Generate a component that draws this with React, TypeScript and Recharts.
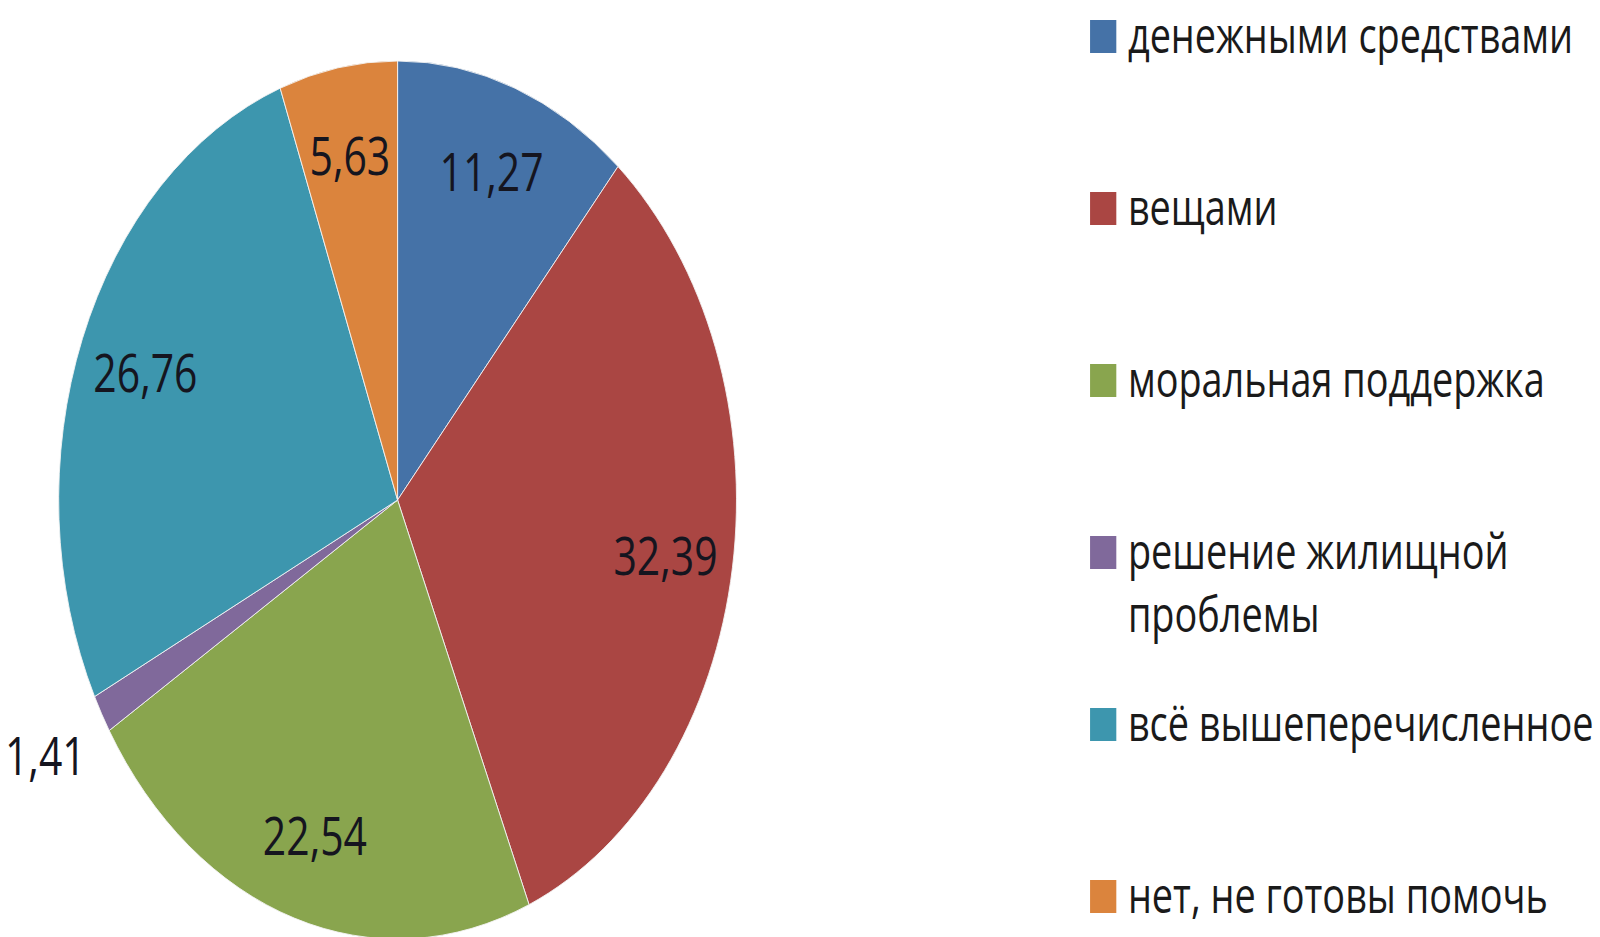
import { PieChart, Pie, Cell, Legend } from "recharts"

const categories = [
  "денежными средствами",
  "вещами",
  "моральная поддержка",
  "решение жилищной проблемы",
  "всё вышеперечисленное",
  "нет, не готовы помочь",
]
const shares = [11.27, 32.39, 22.54, 1.41, 26.76, 5.63]
const colors = ["#4572A7", "#AA4643", "#89A54E", "#80699B", "#3D96AE", "#DB843D"]

// the original picture is squeezed horizontally, so the chart is drawn wide and scaled
const SCALE_X = 0.772
const CHART_W = Math.round(1600 / SCALE_X)
const CHART_H = 937
const FONT = "'Open Sans', sans-serif"
const RAD = Math.PI / 180

const data = categories.map((name, i) => ({ name, value: shares[i] }))

function renderLabel(props: any) {
  const { cx, cy, midAngle, outerRadius, percent, value } = props
  const r = outerRadius * (percent < 0.03 ? 1.19 : 0.8)
  const x = cx + r * Math.cos(-midAngle * RAD)
  const y = cy + r * Math.sin(-midAngle * RAD)
  return (
    <text
      x={x}
      y={y}
      textAnchor="middle"
      dominantBaseline="central"
      fill="#15151f"
      fontSize={53}
      fontFamily={FONT}
    >
      {String(value).replace(".", ",")}
    </text>
  )
}

function renderLegend() {
  return (
    <div style={{ fontFamily: FONT, fontSize: 49, lineHeight: "63px", color: "#1a1a1a" }}>
      {categories.map((name, i) => {
        const wrap = name.length > 22
        return (
          <div key={name} style={{ display: "flex", height: 172, alignItems: "flex-start" }}>
            <div
              style={{
                width: 34,
                height: 33,
                marginTop: 17,
                marginRight: 15,
                background: colors[i],
                flexShrink: 0,
              }}
            />
            <div style={wrap ? { width: 520 } : { whiteSpace: "nowrap" }}>{name}</div>
          </div>
        )
      })}
    </div>
  )
}

export default function App() {
  return (
    <div style={{ position: "absolute", left: 0, top: 0, width: 1600, height: 937, overflow: "hidden", background: "#fff" }}>
      <div style={{ width: CHART_W, height: CHART_H, transform: `scaleX(${SCALE_X})`, transformOrigin: "0 0" }}>
        <PieChart width={CHART_W} height={CHART_H} margin={{ top: 0, right: 0, bottom: 0, left: 0 }}>
          <Pie
            data={data}
            dataKey="value"
            nameKey="name"
            cx={515}
            cy={500}
            outerRadius={439}
            startAngle={90}
            endAngle={-270}
            stroke="#f4f4f4"
            strokeWidth={1}
            label={renderLabel}
            labelLine={false}
            isAnimationActive={false}
          >
            {data.map((_, i) => (
              <Cell key={i} fill={colors[i]} />
            ))}
          </Pie>
          <Legend
            content={renderLegend}
            wrapperStyle={{ left: 1412, top: 3, width: 660, height: 934 }}
          />
        </PieChart>
      </div>
    </div>
  )
}
